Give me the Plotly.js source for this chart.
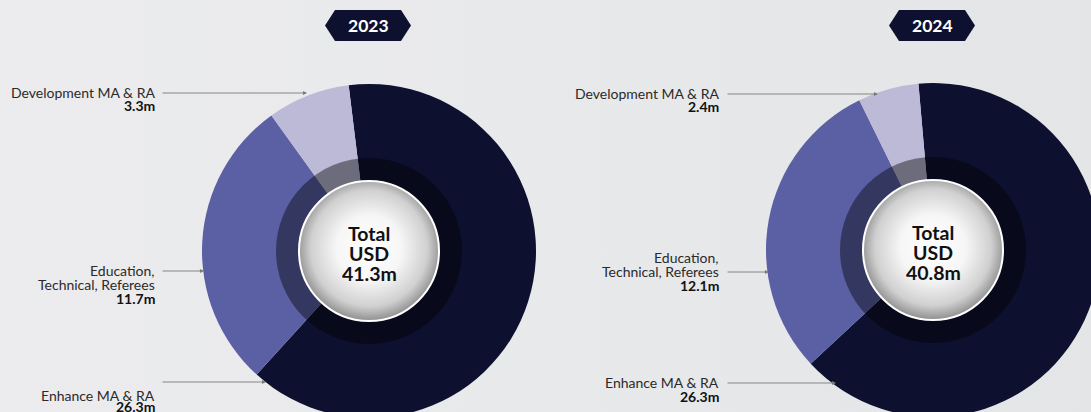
<!DOCTYPE html>
<html>
<head>
<meta charset="utf-8">
<script src="https://cdn.plot.ly/plotly-3.0.1.min.js"></script>
<style>
html,body{margin:0;padding:0;overflow:hidden;width:1091px;height:412px;
background:linear-gradient(90deg,#ececee 0%,#e8e9eb 50%,#e4e5e7 100%);}
#chart{width:1110px;height:440px;}
</style>
</head>
<body>
<div id="chart"></div>
<script>
// ---- data ----
const years = ['2023', '2024'];
const categories = ['Enhance MA & RA', 'Education, Technical, Referees', 'Development MA & RA'];
const values2023 = [26.3, 11.7, 3.3];
const values2024 = [26.3, 12.1, 2.4];
const totals = ['41.3m', '40.8m'];
const sliceColors = ['#0e1030', '#5b5fa4', '#bcbad6'];

// ---- layout helpers (pixel -> paper) ----
const W = 1110, H = 440;
const px = x => x / W;
const py = y => 1 - y / H;

const donuts = [
  {cx: 369, cy: 251, R: 167, rot: -7, values: values2023, total: totals[0], year: years[0]},
  {cx: 933, cy: 250, R: 167, rot: -5, values: values2024, total: totals[1], year: years[1]}
];

const traces = donuts.map(d => ({
  type: 'pie',
  values: d.values,
  labels: categories,
  sort: false,
  direction: 'clockwise',
  rotation: d.rot,
  hole: 0,
  textinfo: 'none',
  hoverinfo: 'label+value',
  showlegend: false,
  marker: {colors: sliceColors, line: {width: 0}},
  domain: {x: [px(d.cx - d.R), px(d.cx + d.R)], y: [py(d.cy + d.R), py(d.cy - d.R)]}
}));

// centre decoration: dark ring + white gradient disc
const ringR = 93, discR = 70;
const S = 2 * ringR + 4;
const svg = `<svg xmlns='http://www.w3.org/2000/svg' width='${S}' height='${S}' viewBox='0 0 ${S} ${S}'>
<defs><radialGradient id='g' cx='50%' cy='48%' r='52%'>
<stop offset='0' stop-color='#ffffff'/><stop offset='0.45' stop-color='#f6f6f6'/>
<stop offset='0.8' stop-color='#d0d0d0'/><stop offset='1' stop-color='#8f8f8f'/></radialGradient></defs>
<circle cx='${S/2}' cy='${S/2}' r='${ringR}' fill='rgba(0,0,0,0.42)'/>
<circle cx='${S/2}' cy='${S/2}' r='${discR}' fill='url(#g)' stroke='#ffffff' stroke-width='2'/>
</svg>`;
const src = 'data:image/svg+xml;charset=utf-8,' + encodeURIComponent(svg);

const images = donuts.map(d => ({
  source: src, xref: 'paper', yref: 'paper',
  x: px(d.cx), y: py(d.cy), sizex: S / W, sizey: S / H,
  xanchor: 'center', yanchor: 'middle', sizing: 'stretch', layer: 'above'
}));

// year badges
const shapes = donuts.map(d => ({
  type: 'path', xref: 'paper', yref: 'paper',
  xsizemode: 'pixel', ysizemode: 'pixel',
  xanchor: px(d.cx - 1), yanchor: py(25.5),
  path: 'M -43 0 L -33 15.5 L 33 15.5 L 43 0 L 33 -15.5 L -33 -15.5 Z',
  fillcolor: '#0e1030', line: {width: 0}
}));

const ann = [];
const font = 'Lato, "Noto Sans", sans-serif';
const labelSize = 14;
function txt(x, y, t, opts) {
  ann.push(Object.assign({
    xref: 'paper', yref: 'paper', x: px(x), y: py(y), text: t, showarrow: false,
    xanchor: 'right', yanchor: 'middle',
    font: {family: font, size: labelSize, color: '#2a2a2a'}
  }, opts || {}));
}
function arrow(x0, y, x1) {
  ann.push({
    xref: 'paper', yref: 'paper', x: px(x1), y: py(y), ax: x0 - x1, ay: 0,
    text: '', showarrow: true, arrowhead: 2, arrowsize: 0.9, arrowwidth: 0.9,
    arrowcolor: '#7a7a7a', standoff: 0, startstandoff: 0
  });
}
function bold(x, y, t) {
  txt(x, y, '<b>' + t + '</b>', {font: {family: font, size: labelSize, color: '#111111'}});
}

donuts.forEach((d, i) => {
  // badge text
  ann.push({xref: 'paper', yref: 'paper', x: px(d.cx - 1), y: py(26), text: '<b>' + d.year + '</b>',
    showarrow: false, xanchor: 'center', yanchor: 'middle',
    font: {family: font, size: 17.5, color: '#ffffff'}});
  // centre text
  ['Total', 'USD', d.total].forEach((t, k) => {
    ann.push({xref: 'paper', yref: 'paper', x: px(d.cx), y: py(d.cy - 18 + k * 20), text: '<b>' + t + '</b>',
      showarrow: false, xanchor: 'center', yanchor: 'middle', height: 20, valign: 'middle',
      font: {family: font, size: 19.5, color: '#111111'}});
  });
});

// 2023 labels
txt(157, 92, categories[2]);
bold(157, 105, values2023[2].toFixed(1) + 'm');
arrow(161, 93, 307);
txt(157, 270, 'Education,');
txt(157, 284, 'Technical, Referees');
bold(157, 298, values2023[1].toFixed(1) + 'm');
arrow(161, 271, 204);
txt(157, 395, categories[0]);
bold(157, 406, values2023[0].toFixed(1) + 'm');
arrow(161, 382, 266);

// 2024 labels
txt(721, 93, categories[2]);
bold(721, 106, values2024[2].toFixed(1) + 'm');
arrow(726, 94, 878);
txt(721, 257, 'Education,');
txt(721, 271, 'Technical, Referees');
bold(721, 285, values2024[1].toFixed(1) + 'm');
arrow(726, 272, 769);
txt(721, 382, categories[0]);
bold(721, 396, values2024[0].toFixed(1) + 'm');
arrow(726, 383, 836);

const layout = {
  width: W, height: H,
  margin: {l: 0, r: 0, t: 0, b: 0},
  paper_bgcolor: 'rgba(0,0,0,0)', plot_bgcolor: 'rgba(0,0,0,0)',
  showlegend: false,
  images: images, shapes: shapes, annotations: ann
};

Plotly.newPlot('chart', traces, layout, {displayModeBar: false, staticPlot: true});
</script>
</body>
</html>
